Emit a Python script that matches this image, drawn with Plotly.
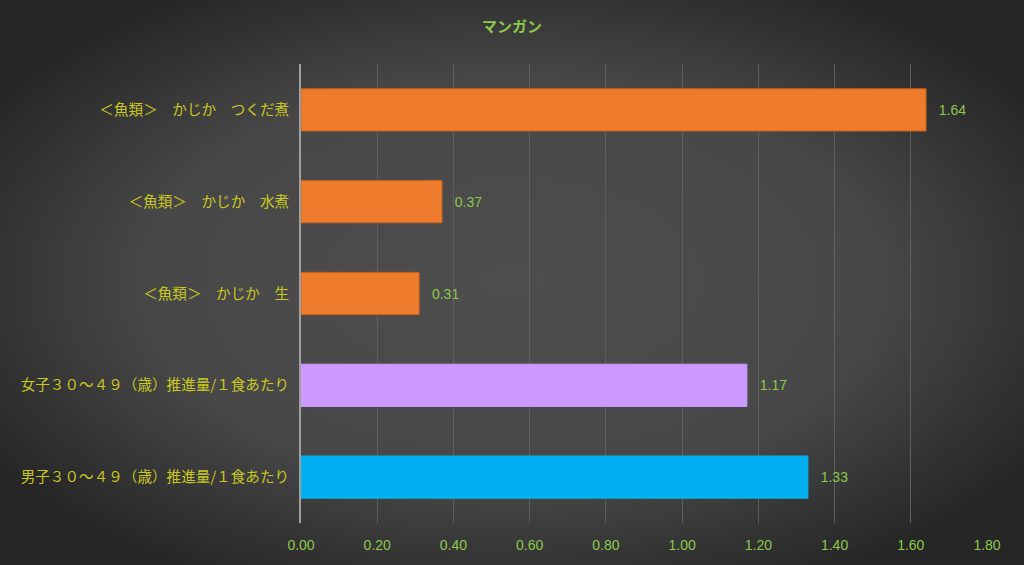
import plotly.graph_objects as go
import urllib.parse

categories = [
    "＜魚類＞　かじか　つくだ煮",
    "＜魚類＞　かじか　水煮",
    "＜魚類＞　かじか　生",
    "女子３０～４９（歳）推進量/１食あたり",
    "男子３０～４９（歳）推進量/１食あたり",
]
values = [1.64, 0.37, 0.31, 1.17, 1.33]
colors = ["#EF7B2C", "#EF7B2C", "#EF7B2C", "#CC99FF", "#00B0F0"]
edge_colors = ["#C8621C", "#C8621C", "#C8621C", "#CC99FF", "#00B0F0"]
x_ticks = [0, 0.2, 0.4, 0.6, 0.8, 1.0, 1.2, 1.4, 1.6, 1.8]

svg = ('<svg xmlns="http://www.w3.org/2000/svg" width="1024" height="565">'
       '<defs><radialGradient id="g" cx="50%" cy="50%" r="60%">'
       '<stop offset="0%" stop-color="#4e4e4e"/><stop offset="60%" stop-color="#474747"/>'
       '<stop offset="100%" stop-color="#262626"/></radialGradient></defs>'
       '<rect width="1024" height="565" fill="url(#g)"/></svg>')
bg = "data:image/svg+xml;charset=utf-8," + urllib.parse.quote(svg)

fig = go.Figure()
fig.add_trace(go.Bar(
    y=categories, x=values, orientation="h",
    marker=dict(color=colors, line=dict(color=edge_colors, width=1)),
    width=0.46,
    text=[f"\u2002\u2009{v:.2f}" for v in values], textposition="outside",
    textfont=dict(color="#8CC84B", size=14, family="Liberation Sans Narrow, Liberation Sans, sans-serif"),
    cliponaxis=False,
))

fig.update_layout(
    width=1024, height=565,
    margin=dict(l=301, r=37, t=64, b=42),
    paper_bgcolor="#3e3e3e", plot_bgcolor="rgba(0,0,0,0)",
    images=[dict(source=bg, xref="paper", yref="paper", x=-301/686, y=1+64/459,
                 sizex=1024/686, sizey=565/459, sizing="stretch", layer="below",
                 xanchor="left", yanchor="top")],
    title=dict(text="<b>マンガン</b>", x=0.5, xanchor="center", y=0.953, yanchor="middle",
               font=dict(color="#8CC84B", size=15, family="Noto Sans CJK JP")),
    showlegend=False,
    bargap=0.54,
)
fig.update_xaxes(
    range=[0, 1.8], tickvals=x_ticks, ticktext=[f"{t:.2f}" for t in x_ticks],
    showgrid=True, gridcolor="#5e5e5e", gridwidth=1, zeroline=False,
    tickfont=dict(color="#8CC84B", size=14, family="Liberation Sans Narrow, Liberation Sans, sans-serif"),
    ticks="", ticklabelstandoff=12,
)
fig.update_yaxes(
    autorange="reversed", showline=True, linecolor="#a0a0a0", linewidth=2,
    tickfont=dict(color="#C8C81E", size=14.6, family="Noto Sans CJK JP"),
    ticks="", ticklabelstandoff=7,
)
fig.write_html("out.html")
